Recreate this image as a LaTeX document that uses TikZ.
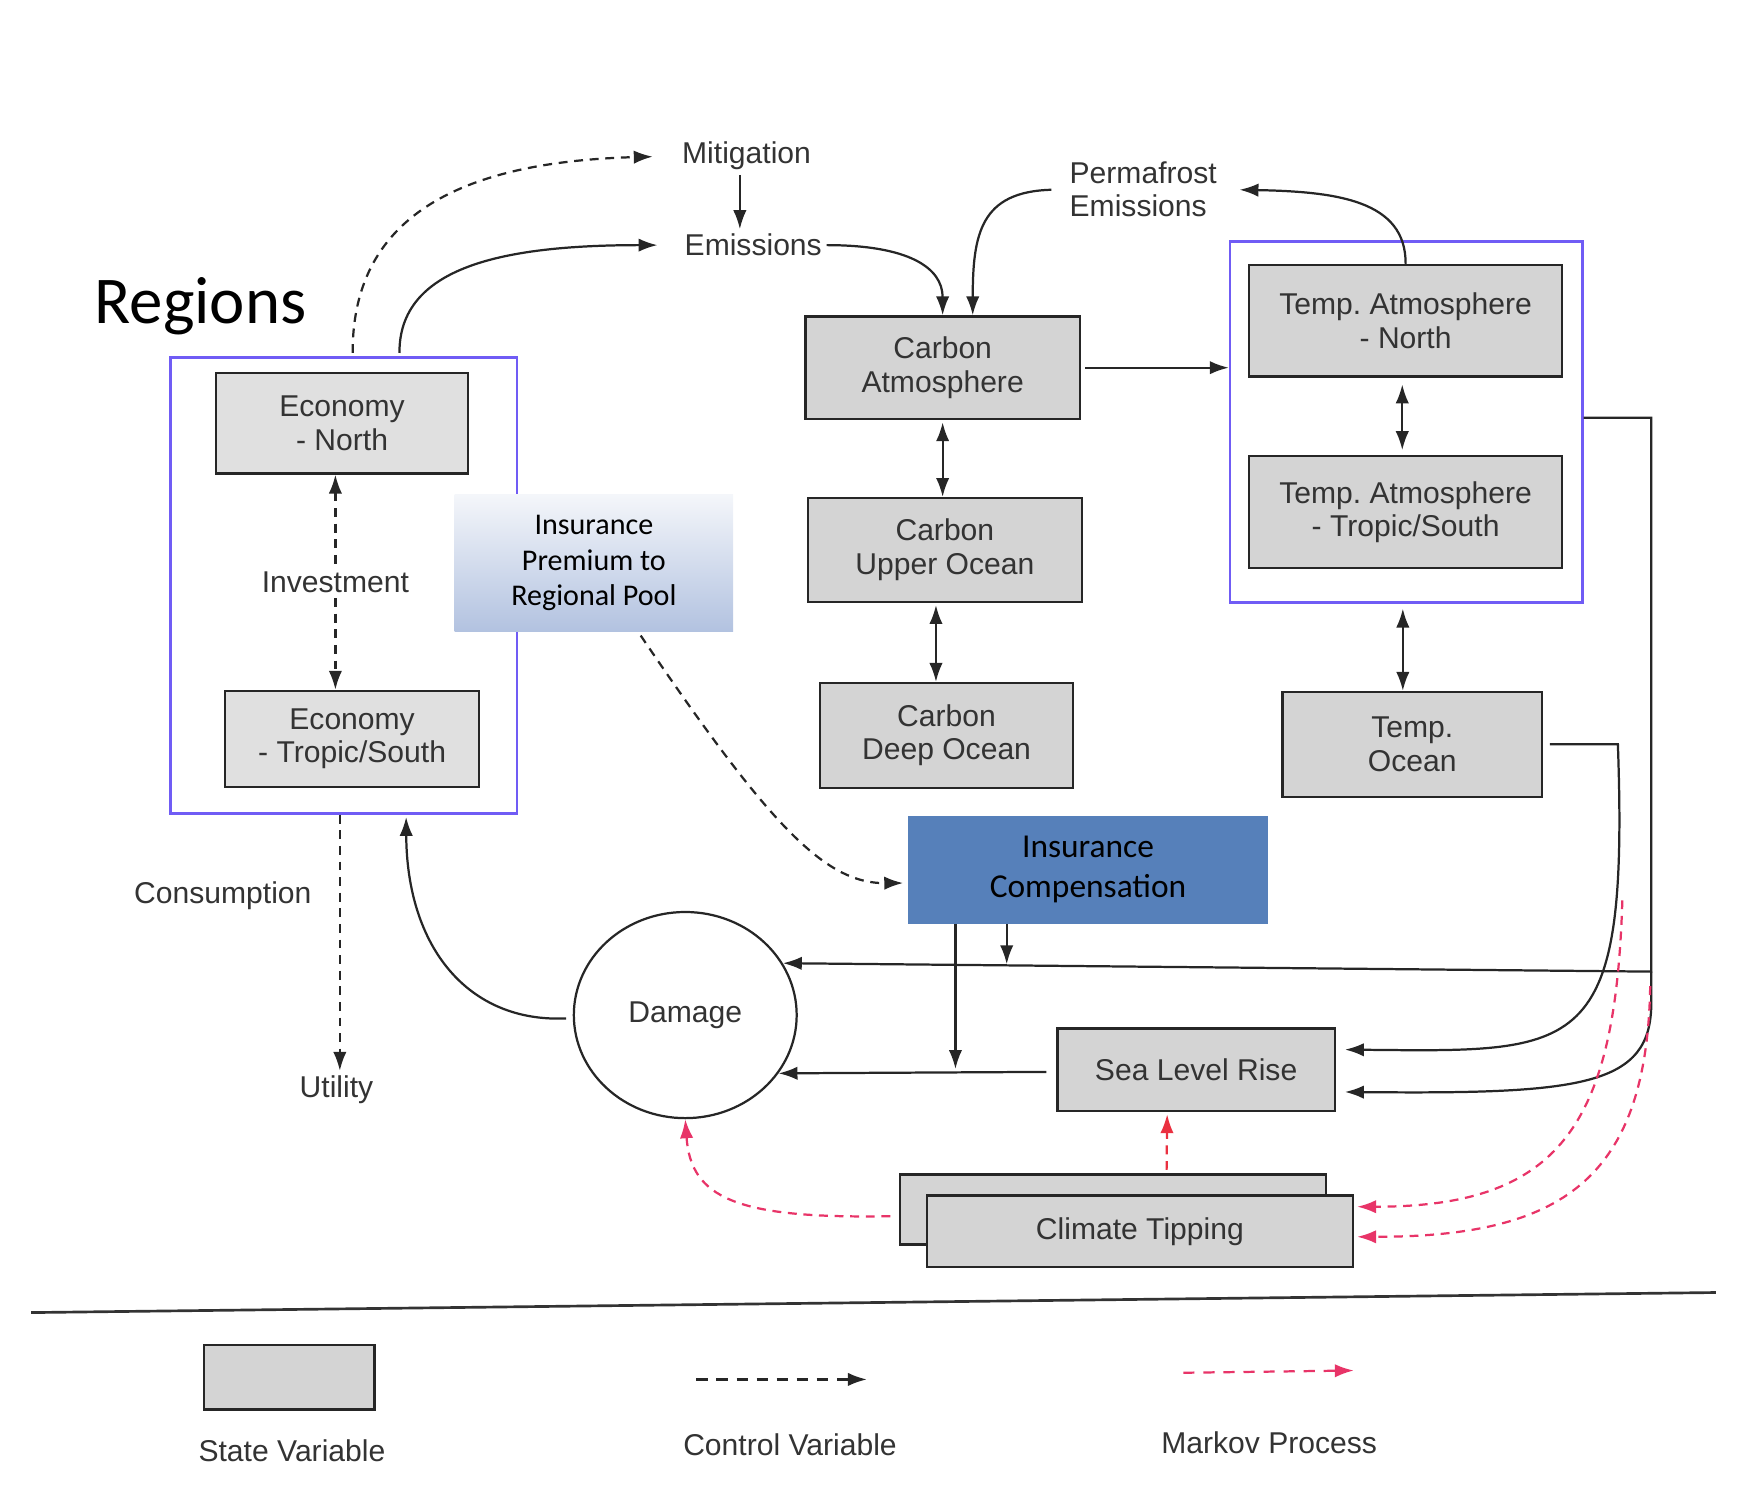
\documentclass[tikz,border=0pt]{standalone}
\usepackage{fontspec}
\setmainfont{Liberation Sans}
\newfontfamily\calibri{Carlito}
\usetikzlibrary{arrows.meta,positioning,calc,shapes.geometric}
\frenchspacing

\definecolor{boxgray}{RGB}{212,212,212}
\definecolor{econgray}{RGB}{224,224,224}
\definecolor{regblue}{RGB}{112,92,245}
\definecolor{compblue}{RGB}{86,128,186}
\definecolor{premtop}{RGB}{244,246,250}
\definecolor{prembot}{RGB}{178,194,224}
\definecolor{markovpink}{RGB}{232,52,104}
\definecolor{markovred}{RGB}{234,48,64}

\begin{document}
\begin{tikzpicture}[x=0.5pt,y=-0.5pt,
		tip/.tip={Latex[length=8.5pt,width=6pt]},
		statevar/.style={rectangle,draw=black!85,line width=1pt,fill=boxgray,inner sep=0pt,align=center,text=black!80,font=\fontsize{13.5}{15}\selectfont},
		region/.style={rectangle,draw=regblue,line width=1.2pt,inner sep=0pt},
		lbl/.style={inner sep=2pt,align=center,text=black!80,font=\fontsize{13.5}{15}\selectfont},
		conn/.style={draw=black!85,line width=1pt,-tip},
		biarrow/.style={conn,tip-tip},
		ctrl/.style={conn,dash pattern=on 4pt off 3pt},
		markov/.style={draw=markovpink,line width=1pt,dash pattern=on 4pt off 3pt,-tip}]

	\useasboundingbox (0,0) rectangle (1567,1342);

	% regions
	\node[font=\calibri\fontsize{30}{36}\selectfont] (regions) at (180,275) {Regions};
	\node[region,minimum width=155.5pt,minimum height=204.5pt] (regL) at (308.5,525.5) {};
	\node[region,minimum width=158pt,minimum height=162pt] (regR) at (1262,379) {};

	% economy
	\node[statevar,fill=econgray,minimum width=113pt,minimum height=45pt] (econN) at (307,380) {Economy\\- North};
	\node[statevar,fill=econgray,minimum width=114pt,minimum height=43pt] (econS) at (316,663) {Economy\\- Tropic/South};
	\node[lbl] (invest) at (301,523) {Investment};
	\node[lbl] (consump) at (200,804) {Consumption};
	\node[lbl] (utility) at (302,978) {Utility};
	\node[rectangle,top color=premtop,bottom color=prembot,minimum width=125pt,minimum height=61.5pt,align=center,
		font=\calibri\fontsize{13.5}{16}\selectfont] (premium) at (533,505.5) {Insurance\\Premium to\\Regional Pool};

	% carbon
	\node[lbl] (mitig) at (670,140) {Mitigation};
	\node[lbl] (emis) at (676,220) {Emissions};
	\node[lbl,align=left] (perma) at (1026,170) {Permafrost\\Emissions};
	\node[statevar,minimum width=123pt,minimum height=46pt] (carbAtm) at (846,330) {Carbon\\Atmosphere};
	\node[statevar,minimum width=123pt,minimum height=46.5pt] (carbUp) at (848,493.5) {Carbon\\Upper Ocean};
	\node[statevar,minimum width=113.5pt,minimum height=47pt] (carbDeep) at (849.5,660) {Carbon\\Deep Ocean};

	% temperature
	\node[statevar,minimum width=140.5pt,minimum height=50pt] (tempN) at (1261.5,288) {Temp. Atmosphere\\- North};
	\node[statevar,minimum width=140.5pt,minimum height=50.5pt] (tempS) at (1261.5,459.5) {Temp. Atmosphere\\- Tropic/South};
	\node[statevar,minimum width=116.5pt,minimum height=47pt] (tempOc) at (1267.5,668) {Temp.\\Ocean};

	% damage side
	\node[rectangle,fill=compblue,minimum width=161.5pt,minimum height=48.5pt,align=center,
		font=\calibri\fontsize{15}{18}\selectfont] (insComp) at (976.5,780.5) {Insurance\\Compensation};
	\node[ellipse,draw=black!85,line width=1pt,fill=white,minimum width=100pt,minimum height=92.5pt,inner sep=0pt,text=black!80,
		font=\fontsize{13.5}{15}\selectfont] (damage) at (615,911) {Damage};
	\node[statevar,minimum width=124.5pt,minimum height=37pt] (slr) at (1073.5,960) {Sea Level Rise};
	\node[statevar,minimum width=191pt,minimum height=31.5pt] (tipBack) at (999,1085.5) {};
	\node[statevar,minimum width=191pt,minimum height=32pt] (tipFront) at (1023,1105) {Climate Tipping};

	\coordinate (rbus) at (1482,872);
	\coordinate (mk1) at (1456,808);
	\coordinate (mk2) at (1481,885);

	% connectors
	\draw[ctrl,tip-] (invest.north |- econN.south) -- (invest.north);
	\draw[ctrl] (invest.south) -- (invest.south |- econS.north);
	\draw[ctrl] ($(regL.south -| utility.north)+(3,0)$) -- ($(utility.north)+(3,0)$);
	\draw[conn] ($(damage.west)+(-6,3)$) .. controls (420,918) and (365,850) .. ($(regL.south)+(56,2)$);
	\draw[ctrl,shorten >=11pt] ($(regL.north)+(8,-3)$) .. controls (316,190) and (420,145) .. (mitig.west);
	\draw[conn] ($(mitig.south)+(-6,0)$) -- ($(mitig.south |- emis.north)+(-6,0)$);
	\draw[conn,shorten >=10pt] ($(regL.north)+(50,-3)$) .. controls (358,240) and (450,220) .. (emis.west);
	\draw[conn] (emis.east) .. controls (815,220) and (846,240) .. (carbAtm.north);
	\draw[conn,shorten <=6pt] (perma.west) .. controls (880,172) and (873,210) .. ($(carbAtm.north)+(27,0)$);
	\draw[conn,shorten >=8pt] (tempN.north) .. controls (1262,180) and (1200,172) .. (perma.east);
	\draw[conn,shorten <=2pt] (carbAtm.east) -- (carbAtm.east -| regR.west);
	\draw[biarrow,shorten <=1pt] (carbAtm.south) -- (carbAtm.south |- carbUp.north);
	\draw[biarrow,shorten <=1pt] ($(carbUp.south)+(-8,0)$) -- ($(carbUp.south |- carbDeep.north)+(-8,0)$);
	\draw[biarrow,shorten <=3pt,shorten >=2pt] ($(tempN.south)+(-3,0)$) -- ($(tempS.north)+(-3,0)$);
	\draw[biarrow,shorten <=2pt] ($(regR.south)+(-3,0)$) -- ($(regR.south |- tempOc.north)+(-3,0)$);
	\draw[conn] ($(regR.east)+(0,-4)$) -- (1482,375) -- (rbus) -- (damage.28);
	\draw[conn] (rbus) -- (1482,900) .. controls (1482,975) and (1420,982) .. ($(slr.east)+(8,20)$);
	\draw[conn,shorten <=3pt] (tempOc.east) -- (1452,668) .. controls (1462,950) and (1420,944) .. ($(slr.east)+(8,-18)$);
	\draw[conn] ($(insComp.south)+(-119,0)$) -- ++(0,130);
	\draw[conn] ($(insComp.south)+(-73,0)$) -- ++(0,36);
	\draw[conn] ($(slr.west)+(-9,2)$) -- (damage.-32);
	\draw[ctrl] ($(premium.south)+(42,3)$) .. controls (690,740) and (740,793) .. ($(insComp.west)+(-4,12)$);

	% markov
	\draw[markov,draw=markovred] ($(tipBack.north)+(48,-3)$) -- ($(slr.south)+(-26,2)$);
	\draw[markov] ($(tipBack.west)+(-8,6)$) .. controls (660,1094) and (620,1075) .. (damage.south);
	\draw[markov] (mk1) .. controls (1450,1010) and (1400,1083) .. ($(tipFront.east)+(3,-22)$);
	\draw[markov] (mk2) .. controls (1478,1060) and (1400,1110) .. ($(tipFront.east)+(3,5)$);

	% legend
	\coordinate (sepL) at (28,1178);
	\coordinate (sepR) at (1540,1160);
	\draw[line width=1.2pt,black!80] (sepL) -- (sepR);
	\node[statevar,minimum width=76.5pt,minimum height=29pt] (legBox) at (259.5,1236) {};
	\node[lbl] (legState) at (262,1302) {State Variable};
	\coordinate (ctrlA) at (625,1238);
	\coordinate (ctrlB) at (778,1238);
	\draw[ctrl,dash pattern=on 5pt off 4pt] (ctrlA) -- (ctrlB);
	\node[lbl] (legCtrl) at (709,1297) {Control Variable};
	\coordinate (mkA) at (1062,1232);
	\coordinate (mkB) at (1215,1230);
	\draw[markov,dash pattern=on 5pt off 4pt] (mkA) -- (mkB);
	\node[lbl] (legMarkov) at (1139,1295) {Markov Process};
\end{tikzpicture}
\end{document}
